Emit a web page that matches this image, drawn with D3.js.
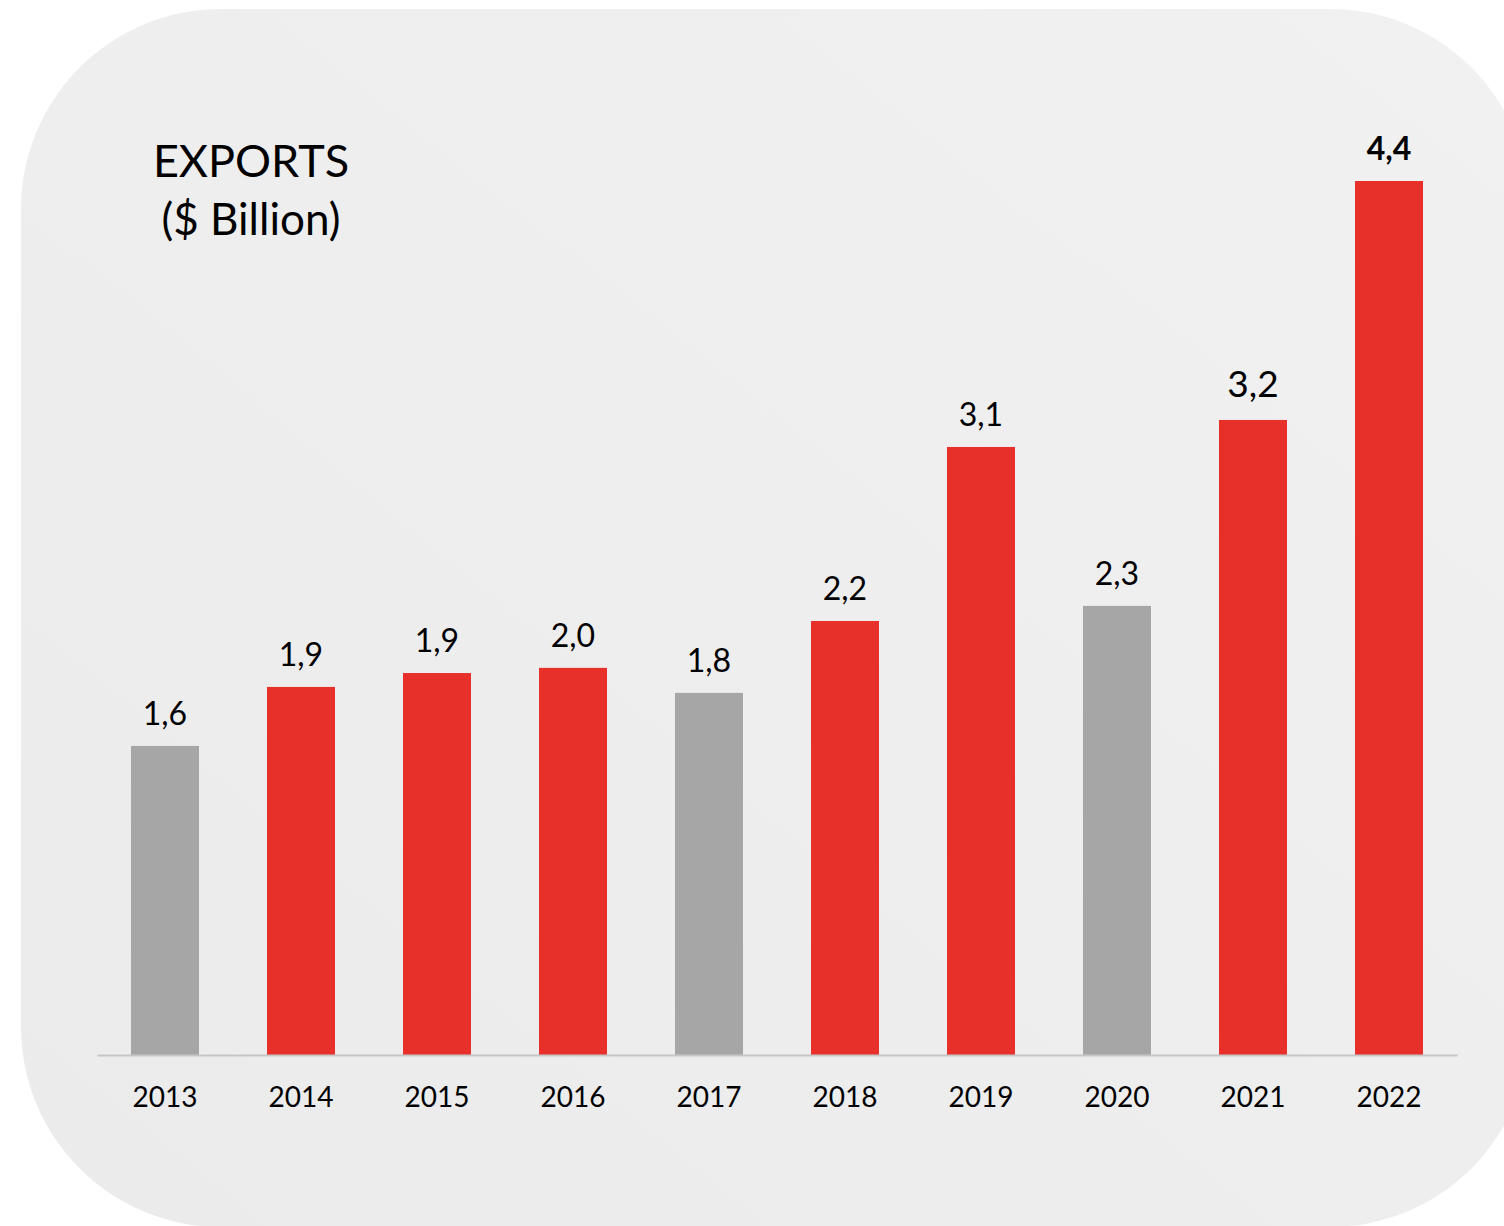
<!DOCTYPE html>
<html>
<head>
<meta charset="utf-8">
<script src="https://cdn.jsdelivr.net/npm/d3@7"></script>
<style>
  html, body { margin: 0; padding: 0; background: #ffffff; }
  svg { display: block; }
</style>
</head>
<body>
<svg id="chart" width="1504" height="1226"></svg>
<script>
// ---- data ----
const years = ["2013","2014","2015","2016","2017","2018","2019","2020","2021","2022"];
const exportsValues = [1.556, 1.853, 1.923, 1.949, 1.823, 2.185, 3.061, 2.261, 3.197, 4.4];
const valueLabels = ["1,6","1,9","1,9","2,0","1,8","2,2","3,1","2,3","3,2","4,4"];
const highlighted = [false, true, true, true, false, true, true, false, true, true];
const boldLabel = [false, false, false, false, false, false, false, false, false, true];
const largeLabel = [false, false, false, false, false, false, false, false, true, false];
const titleLines = ["EXPORTS", "($ Billion)"];

const FONT = "Lato, 'Open Sans', 'Noto Sans', sans-serif";
const RED = "#e8302a", GRAY = "#a6a6a6";

const svg = d3.select("#chart");

// background panel with gradient
const defs = svg.append("defs");
const grad = defs.append("linearGradient").attr("id", "bg")
  .attr("x1", "100%").attr("y1", "0%").attr("x2", "0%").attr("y2", "100%");
grad.append("stop").attr("offset", "0%").attr("stop-color", "#f1f1f1");
grad.append("stop").attr("offset", "100%").attr("stop-color", "#ebebeb");

svg.append("rect")
  .attr("x", 21).attr("y", 9).attr("width", 1509).attr("height", 1218)
  .attr("rx", 200).attr("ry", 200)
  .attr("fill", "url(#bg)");

// scales
const x = d3.scaleBand().domain(years).range([97, 1457]).paddingInner(0.5).paddingOuter(0.25);
const y = d3.scaleLinear().domain([0, 4.4]).range([1055, 181]);

const data = years.map((yr, i) => ({
  year: yr, value: exportsValues[i], label: valueLabels[i],
  hi: highlighted[i], bold: boldLabel[i], large: largeLabel[i]
}));

// bars
svg.append("g").selectAll("rect").data(data).join("rect")
  .attr("x", d => x(d.year))
  .attr("y", d => y(d.value))
  .attr("width", x.bandwidth())
  .attr("height", d => y(0) - y(d.value))
  .attr("fill", d => d.hi ? RED : GRAY);

// x axis
const xAxis = svg.append("g")
  .attr("transform", `translate(0,${y(0)})`)
  .call(d3.axisBottom(x).tickSize(0).tickPadding(0));
xAxis.select(".domain").attr("stroke", "#c6c6c6").attr("stroke-width", 2);
xAxis.selectAll(".tick text")
  .attr("dy", null)
  .attr("y", 52)
  .attr("fill", "#000")
  .style("font-family", FONT)
  .style("font-size", "28px");

// value labels
svg.append("g").selectAll("text").data(data).join("text")
  .attr("x", d => x(d.year) + x.bandwidth() / 2)
  .attr("y", d => y(d.value) - (d.large ? 23 : 21))
  .attr("text-anchor", "middle")
  .attr("fill", "#000")
  .style("font-family", FONT)
  .style("font-size", d => d.large ? "37px" : "32px")
  .style("font-weight", d => d.bold ? "700" : "400")
  .text(d => d.label);

// title
const title = svg.append("text")
  .attr("text-anchor", "middle")
  .attr("fill", "#000")
  .style("font-family", FONT);
title.append("tspan").attr("x", 251).attr("y", 177).style("font-size", "45px").text(titleLines[0]);
title.append("tspan").attr("x", 251).attr("y", 235).style("font-size", "44px").text(titleLines[1]);
</script>
</body>
</html>
